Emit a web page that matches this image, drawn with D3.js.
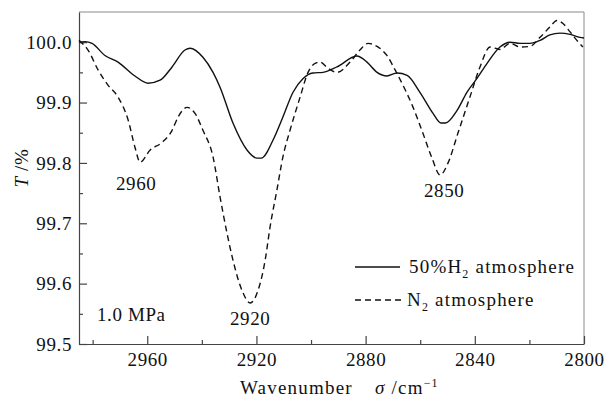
<!DOCTYPE html>
<html lang="en">
<head>
<meta charset="utf-8">
<title>IR transmittance</title>
<script src="https://cdn.jsdelivr.net/npm/d3@7"></script>
<style>
  body { margin: 0; background: #fff; }
  text { font-family: "Liberation Serif", "Times New Roman", serif; fill: #111; letter-spacing: 0.6px; }
  .wide { letter-spacing: 1.2px; }
</style>
</head>
<body>
<script>
  var w = 606, h = 402;

  // wavenumber (cm-1) and transmittance (%)
  var h2Wave = [2985, 2982.8, 2980.2, 2975.5, 2970.7, 2964.5, 2959.7, 2955.3, 2950.9, 2946.2, 2944.3, 2939.6,
                2935.9, 2933.3, 2928.6, 2923.4, 2919.8, 2918.2, 2913.9, 2910.3, 2906.6, 2902.9, 2899.3, 2895.6,
                2890.5, 2883.2, 2879.5, 2875.8, 2872.2, 2868.5, 2864.8, 2860.1, 2855.3, 2852.4, 2850.8, 2846.5,
                2842.9, 2839.2, 2835.5, 2830.8, 2827.1, 2823.4, 2819.8, 2816.1, 2812.5, 2808.8, 2805.1, 2801.5, 2800];
  var h2Trans = [100.000, 100.001, 99.998, 99.978, 99.967, 99.944, 99.932, 99.937, 99.959, 99.987, 99.990, 99.975,
                 99.950, 99.925, 99.866, 99.821, 99.808, 99.808, 99.838, 99.876, 99.917, 99.940, 99.949, 99.950,
                 99.959, 99.977, 99.967, 99.950, 99.944, 99.949, 99.945, 99.917, 99.882, 99.866, 99.866, 99.887,
                 99.917, 99.940, 99.965, 99.992, 100.000, 99.998, 99.998, 100.003, 100.012, 100.015, 100.013, 100.008, 100.007];

  var n2Wave = [2985, 2981.7, 2978.0, 2974.4, 2970.7, 2967.0, 2964.5, 2962.6, 2959.0, 2954.6, 2950.9, 2948.7,
                2945.4, 2942.5, 2939.6, 2935.9, 2933.3, 2930.8, 2928.6, 2925.3, 2922.3, 2919.4, 2916.8, 2915.0,
                2912.5, 2910.3, 2907.7, 2904.0, 2901.1, 2898.5, 2896.7, 2893.8, 2890.5, 2885.7, 2882.1, 2879.1,
                2875.8, 2872.2, 2869.2, 2865.6, 2862.6, 2859.0, 2855.7, 2852.7, 2849.8, 2846.2, 2841.8, 2838.1,
                2834.4, 2830.8, 2827.1, 2823.4, 2819.8, 2816.1, 2812.5, 2809.9, 2807.7, 2805.1, 2802.6, 2800.4];
  var n2Trans = [100.003, 99.987, 99.954, 99.929, 99.909, 99.871, 99.826, 99.801, 99.821, 99.834, 99.854, 99.876,
                 99.892, 99.882, 99.854, 99.810, 99.743, 99.684, 99.639, 99.589, 99.568, 99.589, 99.639, 99.694,
                 99.755, 99.810, 99.854, 99.909, 99.950, 99.965, 99.967, 99.957, 99.950, 99.967, 99.987, 99.998,
                 99.993, 99.978, 99.954, 99.922, 99.892, 99.849, 99.808, 99.780, 99.800, 99.849, 99.909, 99.959,
                 99.992, 99.988, 99.998, 99.992, 99.993, 100.008, 100.025, 100.036, 100.031, 100.017, 100.003, 99.992];

  var xMajor = [2960, 2920, 2880, 2840, 2800];
  var xMinor = [2980, 2940, 2900, 2860, 2820];
  var yMajor = [99.5, 99.6, 99.7, 99.8, 99.9, 100.0];
  var yMinor = [99.55, 99.65, 99.75, 99.85, 99.95];

  var peaks = [{label: "2960", wn: 2962.6, t: 99.801},
               {label: "2920", wn: 2922.3, t: 99.568},
               {label: "2850", wn: 2852.7, t: 99.780}];

  // plot box (window.top is read-only, so keep these in an object)
  var m = {l: 79, r: 584, t: 12, b: 344};

  var x = d3.scaleLinear().domain([2985, 2800]).range([m.l, m.r]);
  var y = d3.scaleLinear().domain([99.5, 100.05]).range([m.b, m.t]);

  var svg = d3.select("body").append("svg")
              .attr("width", w)
              .attr("height", h);

  // frame (top + right are lighter)
  svg.append("path")
     .attr("d", "M" + m.l + "," + m.t + "H" + m.r + "V" + m.b)
     .attr("fill", "none")
     .attr("stroke", "#8a8a8a")
     .attr("stroke-width", 1);

  // x axis
  svg.append("g").attr("transform", "translate(0," + m.b + ")")
     .call(d3.axisBottom(x).tickValues(xMajor).tickSizeInner(-8).tickSizeOuter(0)
             .tickPadding(9).tickFormat(d3.format("d")));
  svg.append("g").attr("transform", "translate(0," + m.b + ")")
     .call(d3.axisBottom(x).tickValues(xMinor).tickSizeInner(-4).tickSizeOuter(0).tickFormat(""))
     .select(".domain").remove();

  // y axis
  svg.append("g").attr("transform", "translate(" + m.l + ",0)")
     .call(d3.axisLeft(y).tickValues(yMajor).tickSizeInner(-8).tickSizeOuter(0)
             .tickPadding(7).tickFormat(d3.format(".1f")));
  svg.append("g").attr("transform", "translate(" + m.l + ",0)")
     .call(d3.axisLeft(y).tickValues(yMinor).tickSizeInner(-4).tickSizeOuter(0).tickFormat(""))
     .select(".domain").remove();

  svg.selectAll(".domain, .tick line").attr("stroke", "#444").attr("stroke-width", 1.2);
  svg.selectAll(".tick text")
     .style("font-family", "'Liberation Serif', serif")
     .style("font-size", "19px")
     .attr("fill", "#111");

  // curves
  var line = d3.line()
               .x(function(d) { return x(d[0]); })
               .y(function(d) { return y(d[1]); })
               .curve(d3.curveMonotoneX);

  var h2 = d3.zip(h2Wave, h2Trans);
  var n2 = d3.zip(n2Wave, n2Trans);

  var plot = svg.append("g");
  plot.append("path").datum(n2)
      .attr("d", line)
      .attr("fill", "none")
      .attr("stroke", "#111")
      .attr("stroke-width", 1.4)
      .attr("stroke-dasharray", "6,4");
  plot.append("path").datum(h2)
      .attr("d", line)
      .attr("fill", "none")
      .attr("stroke", "#111")
      .attr("stroke-width", 1.4);

  // peak labels
  var peakOffset = {"2960": [-4, 28], "2920": [0, 22], "2850": [4, 22]};
  svg.selectAll(".peak")
     .data(peaks)
     .enter()
     .append("text")
     .attr("class", "peak")
     .attr("x", function(d) { return x(d.wn) + peakOffset[d.label][0]; })
     .attr("y", function(d) { return y(d.t) + peakOffset[d.label][1]; })
     .attr("text-anchor", "middle")
     .style("font-size", "19px")
     .text(function(d) { return d.label; });

  svg.append("text")
     .attr("x", 97).attr("y", 321)
     .style("font-size", "19px")
     .text("1.0 MPa");

  // legend
  var legend = svg.append("g");
  legend.append("line")
        .attr("x1", 355).attr("x2", 400).attr("y1", 267).attr("y2", 267)
        .attr("stroke", "#111").attr("stroke-width", 1.4);
  var t1 = legend.append("text").attr("class", "wide").attr("x", 409).attr("y", 273).style("font-size", "19px");
  t1.append("tspan").text("50%H");
  t1.append("tspan").attr("dy", 5).style("font-size", "12px").text("2");
  t1.append("tspan").attr("dy", -5).text(" atmosphere");

  legend.append("line")
        .attr("x1", 355).attr("x2", 405).attr("y1", 300).attr("y2", 300)
        .attr("stroke", "#111").attr("stroke-width", 1.4)
        .attr("stroke-dasharray", "6,4");
  var t2 = legend.append("text").attr("class", "wide").attr("x", 407).attr("y", 306).style("font-size", "19px");
  t2.append("tspan").text("N");
  t2.append("tspan").attr("dy", 5).style("font-size", "12px").text("2");
  t2.append("tspan").attr("dy", -5).text(" atmosphere");

  // axis titles
  var xt = svg.append("text").attr("class", "wide").attr("x", 240).attr("y", 394).style("font-size", "19px");
  xt.append("tspan").text("Wavenumber");
  xt.append("tspan").attr("x", 375).style("font-style", "italic").text("σ");
  xt.append("tspan").text(" /cm");
  xt.append("tspan").attr("dy", -7).style("font-size", "12px").text("−1");

  var yt = svg.append("text")
              .attr("transform", "translate(28,168) rotate(-90)")
              .attr("text-anchor", "middle")
              .style("font-size", "19px");
  yt.append("tspan").style("font-style", "italic").text("T");
  yt.append("tspan").text(" /%");
</script>
</body>
</html>
